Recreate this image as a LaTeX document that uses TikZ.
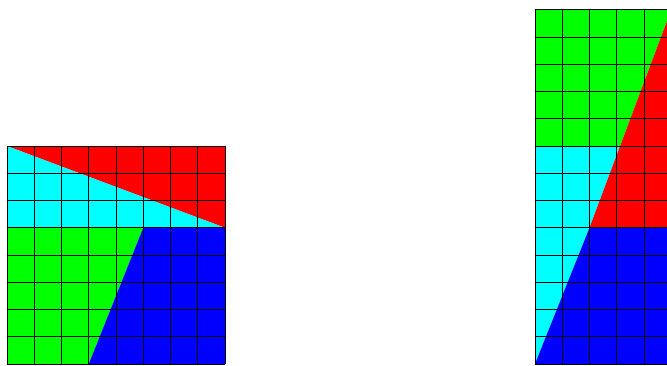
\documentclass[tikz,border=0pt]{standalone}
\usepackage{tikz}
\usetikzlibrary{calc}
\definecolor{pred}{HTML}{FF0000}
\definecolor{pcyan}{HTML}{00FFFF}
\definecolor{pgreen}{HTML}{00FF00}
\definecolor{pblue}{HTML}{0000FF}
\tikzset{
  piece/.style    = {draw=none},
  gridlines/.style = {line width=0.5pt, black, step=1},
}
\begin{document}
\begin{tikzpicture}[x=0.5cm,y=0.5cm]
\clip (-0.257,-0.037) rectangle (24.22,13.36);
% square 8x8
\begin{scope}
  \fill[pred,piece]   (0,8) -- (8,8) -- (8,5) -- cycle;
  \fill[pcyan,piece]  (0,8) -- (8,5) -- (0,5) -- cycle;
  \fill[pgreen,piece] (0,0) -- (3,0) -- (5,5) -- (0,5) -- cycle;
  \fill[pblue,piece]  (3,0) -- (8,0) -- (8,5) -- (5,5) -- cycle;
  \draw[gridlines] (0,0) grid (8,8);
\end{scope}
% rectangle 5x13
\begin{scope}[shift={(19.376,0)}]
  \fill[pgreen,piece] (0,8) -- (3.125,8) -- (5,13) -- (0,13) -- cycle;
  \fill[pcyan,piece]  (0,0) -- (2,5) -- (3.125,8) -- (0,8) -- cycle;
  \fill[pred,piece]   (5,13) -- (5,5) -- (2,5) -- cycle;
  \fill[pblue,piece]  (0,0) -- (5,0) -- (5,5) -- (2,5) -- cycle;
  \draw[gridlines] (0,0) grid (5,13);
\end{scope}
\end{tikzpicture}
\end{document}
